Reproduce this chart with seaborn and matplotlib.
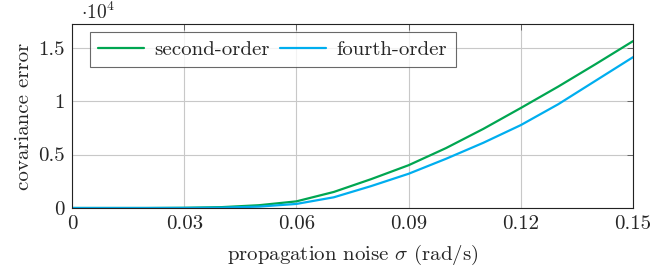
import pandas as pd
import matplotlib
matplotlib.use("Agg")
import matplotlib.pyplot as plt
import seaborn as sns
from matplotlib.ticker import FuncFormatter

# values
sigma = [0.0, 0.01, 0.02, 0.03, 0.04, 0.05, 0.06, 0.07, 0.08,
         0.09, 0.10, 0.11, 0.12, 0.13, 0.14, 0.15]
second_order = [0, 0, 0, 20, 80, 260, 620, 1500, 2700,
                4000, 5600, 7400, 9350, 11350, 13450, 15600]
fourth_order = [0, 0, 0, 5, 30, 130, 380, 1000, 2050,
                3200, 4600, 6100, 7750, 9700, 11900, 14100]

df = pd.DataFrame({
    "sigma": sigma * 2,
    "err": second_order + fourth_order,
    "method": ["second-order"] * len(sigma) + ["fourth-order"] * len(sigma),
})

sns.set_style("white")
plt.rcParams["font.family"] = "serif"
plt.rcParams["font.serif"] = ["cmr10", "DejaVu Serif"]
plt.rcParams["mathtext.fontset"] = "cm"
plt.rcParams["axes.unicode_minus"] = False

fs = 15
fig = plt.figure(figsize=(6.52, 2.76), dpi=100)
ax = fig.add_axes([0.1104, 0.2464, 0.8605, 0.6666])

sns.lineplot(data=df, x="sigma", y="err", hue="method",
             palette={"second-order": "#00a651", "fourth-order": "#00aeef"},
             linewidth=1.6, ax=ax)

ax.set_xlim(0, 0.15)
ax.set_ylim(0, 17200)
ax.set_xticks([0, 0.03, 0.06, 0.09, 0.12, 0.15])
ax.set_xticklabels(["0", "0.03", "0.06", "0.09", "0.12", "0.15"])
ax.set_yticks([0, 5000, 10000, 15000])
ax.yaxis.set_major_formatter(FuncFormatter(lambda v, p: "%g" % (v / 1e4)))
ax.grid(True, color="#c8c8c8", linewidth=0.8)
ax.tick_params(direction="in", top=True, right=True, length=4, width=0.6,
               color="#555555", labelsize=fs, pad=5)
for s in ax.spines.values():
    s.set_color("#222222")
    s.set_linewidth(0.8)

ax.set_xlabel(r"propagation noise $\sigma$ (rad/s)", fontsize=fs, labelpad=7)
ax.set_ylabel("covariance error", fontsize=fs, labelpad=4)
ax.text(0.016, 1.027, r"$\cdot10^4$", transform=ax.transAxes, fontsize=fs - 1,
        ha="left", va="baseline")

leg = ax.legend(loc="upper left", ncol=2, fontsize=fs, frameon=True,
                fancybox=False, edgecolor="#444444", handlelength=2.2,
                columnspacing=0.5, handletextpad=0.5, borderpad=0.4,
                borderaxespad=0, bbox_to_anchor=(0.032, 0.957), title=None)
leg.get_frame().set_linewidth(0.8)

fig.savefig("out.png", dpi=100)
